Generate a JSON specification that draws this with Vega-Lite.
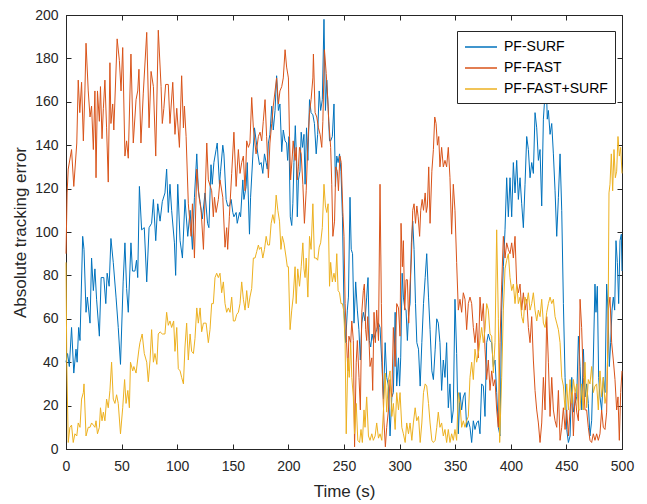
{
"$schema":"https://vega.github.io/schema/vega-lite/v6.json",
"width":556,"height":434,"autosize":"none",
"padding":{"left":66,"top":15,"right":25,"bottom":55},
"config":{"font":"Liberation Sans","view":{"stroke":"#262626","strokeWidth":1},
"axis":{"domainColor":"#262626","tickColor":"#262626","labelColor":"#262626","titleColor":"#262626","labelFont":"Liberation Sans","titleFont":"Liberation Sans","labelFontSize":14,"titleFontSize":17,"titleFontWeight":"normal","grid":false,"tickSize":-5,"domainWidth":1,"tickWidth":1,"labelFlush":false}},
"datasets":{
"surf":[{"t":0,"v":40},{"t":1.4,"v":44},{"t":3,"v":38},{"t":5,"v":56},{"t":7,"v":35},{"t":9,"v":46},{"t":10,"v":40},{"t":11.4,"v":56},{"t":12.6,"v":50},{"t":15,"v":98},{"t":16.2,"v":92},{"t":18,"v":63},{"t":19.2,"v":70},{"t":21.6,"v":58},{"t":23,"v":88},{"t":24.6,"v":73},{"t":26,"v":83},{"t":27.5,"v":69},{"t":30,"v":52},{"t":31.6,"v":79},{"t":34,"v":79},{"t":35.8,"v":67},{"t":37,"v":81},{"t":38.8,"v":75},{"t":40.4,"v":97},{"t":42.5,"v":86},{"t":45,"v":70},{"t":47,"v":56},{"t":49,"v":39},{"t":51.4,"v":77},{"t":53,"v":95},{"t":54.5,"v":74},{"t":56,"v":63},{"t":58.4,"v":95},{"t":59.8,"v":82},{"t":62,"v":82},{"t":63.4,"v":87},{"t":64.5,"v":79},{"t":66,"v":121},{"t":68,"v":101},{"t":70.4,"v":102},{"t":72.6,"v":77},{"t":74.7,"v":102},{"t":77,"v":104},{"t":78.6,"v":115},{"t":80.7,"v":96},{"t":82.5,"v":113},{"t":84.6,"v":105},{"t":86.6,"v":114},{"t":89,"v":118},{"t":90.5,"v":129},{"t":92,"v":109},{"t":93.5,"v":122},{"t":95,"v":110},{"t":97.5,"v":95},{"t":98.6,"v":80},{"t":100.5,"v":122},{"t":102.6,"v":96},{"t":104.7,"v":88},{"t":107,"v":115},{"t":109.5,"v":98},{"t":111.6,"v":110},{"t":113.7,"v":92},{"t":115.5,"v":116},{"t":117.6,"v":136},{"t":119,"v":119},{"t":120.6,"v":114},{"t":122.6,"v":106},{"t":125,"v":118},{"t":127.3,"v":104},{"t":128.5,"v":102},{"t":130.4,"v":131},{"t":131.5,"v":122},{"t":133,"v":132},{"t":135,"v":138},{"t":136,"v":141},{"t":138,"v":122},{"t":139,"v":128},{"t":141,"v":140},{"t":142,"v":136},{"t":144,"v":115},{"t":145.4,"v":112},{"t":147,"v":112},{"t":148.5,"v":115},{"t":150,"v":109},{"t":151,"v":107},{"t":153,"v":109},{"t":154,"v":104},{"t":156,"v":109},{"t":157,"v":107},{"t":159,"v":124},{"t":160,"v":115},{"t":162,"v":121},{"t":163,"v":132},{"t":165,"v":99},{"t":166,"v":116},{"t":168,"v":135},{"t":169.5,"v":148},{"t":171,"v":142},{"t":172.5,"v":136},{"t":174,"v":131},{"t":175.5,"v":132},{"t":177,"v":127},{"t":178.5,"v":136},{"t":180,"v":132},{"t":181,"v":129},{"t":182,"v":141},{"t":183.4,"v":145},{"t":185,"v":158},{"t":186.4,"v":147},{"t":188,"v":156},{"t":189.4,"v":172},{"t":191,"v":156},{"t":192.4,"v":159},{"t":194,"v":137},{"t":195.4,"v":147},{"t":197,"v":142},{"t":198.4,"v":141},{"t":199.3,"v":133},{"t":200.5,"v":144},{"t":201.7,"v":107},{"t":203,"v":103},{"t":204,"v":113},{"t":205,"v":132},{"t":206.2,"v":149},{"t":207,"v":138},{"t":208,"v":107},{"t":209,"v":124},{"t":210.4,"v":128},{"t":211.5,"v":146},{"t":212.7,"v":139},{"t":214,"v":145},{"t":215,"v":122},{"t":216.3,"v":148},{"t":217.5,"v":133},{"t":219,"v":161},{"t":220.4,"v":155},{"t":222,"v":154},{"t":223.4,"v":150},{"t":225,"v":136},{"t":226.3,"v":145},{"t":227.7,"v":165},{"t":229,"v":156},{"t":230.5,"v":161},{"t":232,"v":198},{"t":233.3,"v":156},{"t":234.5,"v":170},{"t":235.7,"v":158},{"t":237,"v":142},{"t":238,"v":142},{"t":239.5,"v":144},{"t":241,"v":159},{"t":242.3,"v":121},{"t":243.5,"v":135},{"t":244.7,"v":132},{"t":246,"v":136},{"t":247.3,"v":128},{"t":248.6,"v":107},{"t":250,"v":64},{"t":251.5,"v":49},{"t":253,"v":64},{"t":254,"v":70},{"t":255.4,"v":116},{"t":256.5,"v":92},{"t":257.7,"v":90},{"t":259,"v":58},{"t":260.5,"v":77},{"t":262,"v":64},{"t":263.4,"v":55},{"t":264.7,"v":41},{"t":266,"v":58},{"t":267.4,"v":63},{"t":268.9,"v":59},{"t":270.4,"v":70},{"t":271.6,"v":79},{"t":272.8,"v":50},{"t":274,"v":47},{"t":275.2,"v":53},{"t":276.4,"v":50},{"t":278,"v":53},{"t":279.4,"v":55},{"t":281,"v":58},{"t":282.4,"v":56},{"t":284,"v":40},{"t":285.5,"v":23},{"t":287,"v":49},{"t":288.4,"v":33},{"t":290,"v":29},{"t":291.4,"v":6},{"t":293,"v":24},{"t":294.4,"v":26},{"t":296,"v":63},{"t":297.4,"v":29},{"t":299,"v":42},{"t":300,"v":29},{"t":301,"v":42},{"t":302.3,"v":81},{"t":303.4,"v":70},{"t":304.6,"v":65},{"t":305.8,"v":64},{"t":307,"v":50},{"t":308.2,"v":63},{"t":309.4,"v":67},{"t":310.6,"v":95},{"t":311.8,"v":105},{"t":313,"v":92},{"t":314.3,"v":67},{"t":315.5,"v":49},{"t":317,"v":46},{"t":318.5,"v":29},{"t":320,"v":49},{"t":321.5,"v":67},{"t":323,"v":79},{"t":324.4,"v":90},{"t":326,"v":70},{"t":327.4,"v":55},{"t":329,"v":36},{"t":330.4,"v":32},{"t":332,"v":46},{"t":333.4,"v":60},{"t":334.8,"v":58},{"t":336.3,"v":49},{"t":337.8,"v":27},{"t":339.3,"v":41},{"t":340.8,"v":33},{"t":342.3,"v":49},{"t":343.8,"v":19},{"t":345.3,"v":30},{"t":346.8,"v":12},{"t":348.3,"v":18},{"t":349.8,"v":69},{"t":351.3,"v":44},{"t":352.8,"v":7},{"t":354.3,"v":26},{"t":355.8,"v":18},{"t":357.3,"v":24},{"t":358.8,"v":26},{"t":360.3,"v":10},{"t":361.8,"v":13},{"t":363.3,"v":10},{"t":364.8,"v":3},{"t":366.3,"v":13},{"t":367.8,"v":9},{"t":369.3,"v":12},{"t":370.8,"v":13},{"t":372.3,"v":7},{"t":373.8,"v":30},{"t":375.3,"v":29},{"t":376.8,"v":15},{"t":378.3,"v":49},{"t":379.8,"v":53},{"t":381.3,"v":50},{"t":382.8,"v":49},{"t":384.3,"v":38},{"t":385.8,"v":41},{"t":387.3,"v":26},{"t":388.8,"v":10},{"t":390.3,"v":6},{"t":391.8,"v":64},{"t":393.3,"v":84},{"t":394.8,"v":101},{"t":396.3,"v":125},{"t":397.8,"v":107},{"t":399.3,"v":125},{"t":400.8,"v":107},{"t":402.3,"v":132},{"t":403.8,"v":118},{"t":405.3,"v":133},{"t":406.8,"v":115},{"t":408.3,"v":125},{"t":409.8,"v":113},{"t":411.3,"v":102},{"t":412.8,"v":122},{"t":414.3,"v":144},{"t":415.8,"v":138},{"t":417.3,"v":125},{"t":418.8,"v":132},{"t":420.3,"v":127},{"t":421.8,"v":155},{"t":423.3,"v":148},{"t":424.8,"v":133},{"t":426.3,"v":138},{"t":427.8,"v":112},{"t":429.3,"v":152},{"t":430.8,"v":164},{"t":431.7,"v":172},{"t":432.8,"v":152},{"t":433.8,"v":156},{"t":435.3,"v":145},{"t":436.8,"v":150},{"t":438.3,"v":136},{"t":439.8,"v":119},{"t":441.3,"v":98},{"t":442.8,"v":116},{"t":444.3,"v":136},{"t":445.8,"v":110},{"t":447.3,"v":67},{"t":448.8,"v":33},{"t":450.3,"v":9},{"t":451.8,"v":3},{"t":453.3,"v":6},{"t":454.8,"v":33},{"t":456.3,"v":17},{"t":457.8,"v":21},{"t":459.3,"v":24},{"t":460.8,"v":52},{"t":462.3,"v":38},{"t":463.8,"v":18},{"t":465.3,"v":46},{"t":466.8,"v":24},{"t":468.2,"v":30},{"t":469.7,"v":21},{"t":471.2,"v":6},{"t":472.7,"v":13},{"t":474.2,"v":41},{"t":475.7,"v":76},{"t":476.6,"v":63},{"t":477.8,"v":75},{"t":479,"v":33},{"t":480.2,"v":24},{"t":481.7,"v":18},{"t":483.2,"v":33},{"t":484.7,"v":26},{"t":486.2,"v":76},{"t":487.4,"v":64},{"t":488.6,"v":38},{"t":489.8,"v":49},{"t":491,"v":64},{"t":492.2,"v":70},{"t":493.4,"v":64},{"t":494.6,"v":96},{"t":495.8,"v":86},{"t":497,"v":67},{"t":498.2,"v":96},{"t":499.4,"v":99},{"t":500,"v":82}],
"fast":[{"t":0,"v":90},{"t":1,"v":118},{"t":2,"v":129},{"t":5,"v":138},{"t":7,"v":121},{"t":9.7,"v":141},{"t":11,"v":170},{"t":12.4,"v":155},{"t":14,"v":169},{"t":15.6,"v":142},{"t":17,"v":165},{"t":18,"v":187},{"t":20,"v":165},{"t":21.6,"v":153},{"t":23,"v":158},{"t":24.6,"v":138},{"t":26,"v":165},{"t":27,"v":125},{"t":28.3,"v":165},{"t":30,"v":151},{"t":31,"v":167},{"t":32.4,"v":143},{"t":33.6,"v":157},{"t":35,"v":170},{"t":36.5,"v":148},{"t":38,"v":123},{"t":39.5,"v":178},{"t":40.4,"v":150},{"t":42,"v":159},{"t":43,"v":147},{"t":46,"v":189},{"t":48,"v":179},{"t":49.5,"v":165},{"t":51,"v":185},{"t":53,"v":135},{"t":54.5,"v":142},{"t":56,"v":134},{"t":58.4,"v":182},{"t":60.5,"v":141},{"t":63,"v":161},{"t":64.5,"v":165},{"t":65.6,"v":175},{"t":67.4,"v":141},{"t":69.5,"v":164},{"t":72.6,"v":192},{"t":74.7,"v":148},{"t":76.5,"v":174},{"t":78.6,"v":167},{"t":80.7,"v":135},{"t":83,"v":193},{"t":85.5,"v":167},{"t":86.6,"v":150},{"t":88,"v":157},{"t":89.6,"v":168},{"t":92,"v":168},{"t":93.5,"v":150},{"t":96,"v":169},{"t":98,"v":145},{"t":99.6,"v":157},{"t":102,"v":139},{"t":104,"v":172},{"t":105.6,"v":148},{"t":106.5,"v":158},{"t":108,"v":144},{"t":110,"v":113},{"t":112.5,"v":98},{"t":113.7,"v":113},{"t":115.5,"v":88},{"t":117.6,"v":129},{"t":119.7,"v":116},{"t":121.5,"v":110},{"t":123.6,"v":92},{"t":126.6,"v":141},{"t":128,"v":124},{"t":131,"v":119},{"t":132.5,"v":107},{"t":133.5,"v":116},{"t":135,"v":109},{"t":137,"v":115},{"t":138.5,"v":124},{"t":141,"v":116},{"t":143,"v":93},{"t":144.5,"v":102},{"t":145.4,"v":92},{"t":146.9,"v":107},{"t":149,"v":127},{"t":151,"v":146},{"t":153,"v":121},{"t":155,"v":138},{"t":156.5,"v":127},{"t":158,"v":132},{"t":159.5,"v":135},{"t":161,"v":119},{"t":162.5,"v":142},{"t":164,"v":139},{"t":165.4,"v":141},{"t":167,"v":162},{"t":168.5,"v":148},{"t":170.9,"v":136},{"t":173,"v":144},{"t":174.5,"v":146},{"t":176,"v":142},{"t":177.4,"v":151},{"t":179,"v":161},{"t":180.4,"v":144},{"t":182,"v":125},{"t":183.4,"v":141},{"t":185,"v":150},{"t":186.4,"v":158},{"t":188,"v":165},{"t":189.4,"v":171},{"t":191,"v":159},{"t":192.4,"v":165},{"t":194,"v":167},{"t":195.4,"v":171},{"t":197,"v":184},{"t":198.4,"v":176},{"t":200,"v":171},{"t":201,"v":144},{"t":202,"v":124},{"t":203.5,"v":135},{"t":204.3,"v":142},{"t":206,"v":133},{"t":207,"v":139},{"t":208,"v":124},{"t":209,"v":130},{"t":210,"v":139},{"t":211.5,"v":136},{"t":213,"v":122},{"t":214.4,"v":104},{"t":216,"v":119},{"t":217.5,"v":141},{"t":219,"v":155},{"t":220.4,"v":161},{"t":222,"v":171},{"t":222.5,"v":182},{"t":224,"v":155},{"t":225.5,"v":153},{"t":227,"v":148},{"t":228.5,"v":145},{"t":230,"v":139},{"t":231,"v":151},{"t":232.4,"v":184},{"t":234,"v":173},{"t":235.4,"v":161},{"t":236.3,"v":151},{"t":238,"v":139},{"t":239,"v":122},{"t":240,"v":98},{"t":241.5,"v":105},{"t":242.6,"v":130},{"t":244,"v":128},{"t":245,"v":119},{"t":246.3,"v":135},{"t":247.5,"v":132},{"t":249,"v":109},{"t":250,"v":98},{"t":251,"v":67},{"t":252.3,"v":49},{"t":253.5,"v":36},{"t":254.4,"v":52},{"t":256,"v":49},{"t":257,"v":59},{"t":258.4,"v":50},{"t":259.5,"v":1},{"t":261,"v":40},{"t":262,"v":50},{"t":263.5,"v":33},{"t":264.7,"v":18},{"t":266,"v":63},{"t":267.4,"v":73},{"t":268.3,"v":76},{"t":269.5,"v":55},{"t":270.4,"v":50},{"t":271.3,"v":61},{"t":272.5,"v":50},{"t":273.4,"v":38},{"t":275,"v":42},{"t":275.8,"v":27},{"t":277,"v":63},{"t":278.2,"v":49},{"t":279.4,"v":64},{"t":281,"v":50},{"t":282.4,"v":122},{"t":283.6,"v":67},{"t":284.8,"v":29},{"t":286,"v":12},{"t":287.2,"v":1},{"t":288.4,"v":10},{"t":290,"v":18},{"t":291.4,"v":32},{"t":293,"v":24},{"t":294.4,"v":56},{"t":296,"v":38},{"t":297.4,"v":67},{"t":299,"v":65},{"t":300.4,"v":52},{"t":301.3,"v":104},{"t":302.5,"v":84},{"t":303.4,"v":96},{"t":304.6,"v":64},{"t":305.8,"v":78},{"t":307,"v":78},{"t":308.2,"v":58},{"t":309.4,"v":76},{"t":310.6,"v":88},{"t":311.8,"v":110},{"t":313,"v":113},{"t":314.3,"v":104},{"t":315.5,"v":112},{"t":316.7,"v":107},{"t":318,"v":98},{"t":319,"v":110},{"t":320.3,"v":115},{"t":321.5,"v":110},{"t":323,"v":118},{"t":324,"v":109},{"t":325,"v":112},{"t":326.2,"v":130},{"t":327.4,"v":104},{"t":329,"v":128},{"t":330.4,"v":138},{"t":331.6,"v":153},{"t":332.8,"v":150},{"t":334,"v":140},{"t":335.2,"v":144},{"t":336.3,"v":130},{"t":337.8,"v":139},{"t":339.3,"v":130},{"t":340.8,"v":133},{"t":342.3,"v":130},{"t":343.8,"v":139},{"t":345.3,"v":125},{"t":346.8,"v":99},{"t":348.3,"v":122},{"t":349.8,"v":110},{"t":351.3,"v":86},{"t":352.8,"v":64},{"t":354.3,"v":69},{"t":355.8,"v":63},{"t":357.3,"v":72},{"t":358.8,"v":69},{"t":360.3,"v":55},{"t":361.8,"v":67},{"t":363.3,"v":70},{"t":364.8,"v":67},{"t":366.3,"v":56},{"t":367.8,"v":49},{"t":369.3,"v":58},{"t":370.8,"v":42},{"t":372.3,"v":70},{"t":373.8,"v":59},{"t":375.3,"v":67},{"t":376.8,"v":46},{"t":378.3,"v":32},{"t":379.8,"v":41},{"t":381.3,"v":27},{"t":382.8,"v":36},{"t":384.3,"v":29},{"t":385.8,"v":32},{"t":387.3,"v":18},{"t":388.8,"v":10},{"t":390.3,"v":49},{"t":391.8,"v":76},{"t":393.3,"v":98},{"t":394.8,"v":88},{"t":396.3,"v":95},{"t":397.8,"v":92},{"t":399.3,"v":90},{"t":400.8,"v":95},{"t":402.3,"v":88},{"t":403.8,"v":98},{"t":405.3,"v":76},{"t":406.8,"v":72},{"t":408.3,"v":76},{"t":409.8,"v":64},{"t":411.3,"v":72},{"t":412.8,"v":64},{"t":414.3,"v":69},{"t":415.8,"v":56},{"t":417.3,"v":49},{"t":418.8,"v":61},{"t":420.3,"v":41},{"t":421.8,"v":27},{"t":423.3,"v":18},{"t":424.8,"v":12},{"t":426.3,"v":3},{"t":427.8,"v":12},{"t":429.3,"v":33},{"t":430.8,"v":18},{"t":432.3,"v":61},{"t":433.8,"v":40},{"t":435.3,"v":15},{"t":436.8,"v":33},{"t":438.3,"v":18},{"t":439.8,"v":13},{"t":441.3,"v":10},{"t":442.8,"v":27},{"t":444.3,"v":4},{"t":445.8,"v":10},{"t":447.3,"v":19},{"t":448.8,"v":9},{"t":450.3,"v":18},{"t":451.8,"v":6},{"t":453.3,"v":18},{"t":454.8,"v":26},{"t":456.3,"v":6},{"t":457.8,"v":26},{"t":459.3,"v":17},{"t":460.8,"v":13},{"t":462.3,"v":69},{"t":463.7,"v":56},{"t":465.2,"v":33},{"t":466.7,"v":18},{"t":468.2,"v":18},{"t":469.7,"v":10},{"t":471.2,"v":4},{"t":472.7,"v":3},{"t":474.2,"v":7},{"t":475.7,"v":4},{"t":477.2,"v":7},{"t":478.7,"v":4},{"t":480.2,"v":7},{"t":481.7,"v":18},{"t":483.2,"v":10},{"t":484.7,"v":9},{"t":486.2,"v":17},{"t":487.7,"v":64},{"t":489.2,"v":70},{"t":490.7,"v":49},{"t":492.2,"v":41},{"t":493.7,"v":32},{"t":495.2,"v":18},{"t":496.4,"v":24},{"t":497.6,"v":4},{"t":498.8,"v":26},{"t":500,"v":36}],
"both":[{"t":0,"v":86},{"t":0.7,"v":40},{"t":2,"v":3},{"t":3.5,"v":10},{"t":5,"v":11},{"t":6.5,"v":3},{"t":8,"v":7},{"t":9.7,"v":6},{"t":11,"v":12},{"t":12.6,"v":10},{"t":14,"v":23},{"t":15.6,"v":26},{"t":16.2,"v":30},{"t":18,"v":6},{"t":20,"v":10},{"t":21.6,"v":10},{"t":23,"v":12},{"t":24.6,"v":11},{"t":26,"v":10},{"t":27,"v":13},{"t":28.3,"v":7},{"t":30,"v":10},{"t":31,"v":19},{"t":32.4,"v":13},{"t":33.6,"v":17},{"t":35,"v":13},{"t":36.5,"v":23},{"t":38,"v":19},{"t":39.5,"v":27},{"t":41,"v":40},{"t":42.5,"v":23},{"t":44,"v":21},{"t":45.5,"v":25},{"t":47,"v":21},{"t":49,"v":7},{"t":51,"v":19},{"t":52.7,"v":32},{"t":54,"v":21},{"t":55.6,"v":27},{"t":57,"v":19},{"t":58,"v":40},{"t":60,"v":36},{"t":61,"v":38},{"t":63,"v":35},{"t":64.4,"v":41},{"t":65.6,"v":46},{"t":66.5,"v":49},{"t":68.5,"v":53},{"t":70.4,"v":44},{"t":72.6,"v":40},{"t":74,"v":31},{"t":75.6,"v":41},{"t":77,"v":55},{"t":78.6,"v":40},{"t":80,"v":44},{"t":81.7,"v":39},{"t":83,"v":53},{"t":84.6,"v":54},{"t":86.6,"v":53},{"t":89,"v":53},{"t":90.5,"v":63},{"t":92,"v":57},{"t":93.5,"v":59},{"t":95,"v":56},{"t":96.8,"v":59},{"t":98,"v":45},{"t":99.6,"v":56},{"t":101,"v":37},{"t":102.6,"v":36},{"t":104,"v":33},{"t":105.6,"v":30},{"t":107,"v":47},{"t":108.5,"v":58},{"t":110,"v":41},{"t":111.6,"v":53},{"t":113,"v":45},{"t":114.6,"v":44},{"t":116,"v":51},{"t":117.6,"v":65},{"t":119,"v":58},{"t":120.6,"v":65},{"t":122,"v":54},{"t":123.6,"v":58},{"t":126,"v":58},{"t":128,"v":49},{"t":129.5,"v":55},{"t":131,"v":67},{"t":132.5,"v":67},{"t":134,"v":79},{"t":135.5,"v":81},{"t":137,"v":79},{"t":138.5,"v":81},{"t":140,"v":72},{"t":141.5,"v":77},{"t":143,"v":67},{"t":144.5,"v":63},{"t":146,"v":65},{"t":147.5,"v":63},{"t":149,"v":70},{"t":150.5,"v":59},{"t":152,"v":59},{"t":153.5,"v":62},{"t":155,"v":63},{"t":156.5,"v":67},{"t":158,"v":77},{"t":159.5,"v":69},{"t":161,"v":64},{"t":162.5,"v":73},{"t":164,"v":65},{"t":165.4,"v":70},{"t":167,"v":74},{"t":168.5,"v":88},{"t":170,"v":88},{"t":171.5,"v":91},{"t":173,"v":94},{"t":174,"v":92},{"t":175.5,"v":93},{"t":177,"v":88},{"t":178.5,"v":92},{"t":180,"v":98},{"t":181.5,"v":94},{"t":183,"v":94},{"t":184.5,"v":104},{"t":186,"v":108},{"t":187.5,"v":104},{"t":189,"v":117},{"t":190.5,"v":110},{"t":192,"v":105},{"t":193.3,"v":92},{"t":194.5,"v":98},{"t":196,"v":95},{"t":198,"v":88},{"t":199,"v":84},{"t":200,"v":84},{"t":201.5,"v":55},{"t":203,"v":64},{"t":204.3,"v":70},{"t":206,"v":84},{"t":207,"v":67},{"t":208.4,"v":83},{"t":210,"v":75},{"t":211.5,"v":84},{"t":213,"v":95},{"t":214,"v":83},{"t":215,"v":79},{"t":216,"v":88},{"t":217.5,"v":70},{"t":219,"v":98},{"t":220.4,"v":92},{"t":222,"v":113},{"t":223.4,"v":88},{"t":225,"v":88},{"t":226.3,"v":87},{"t":227.7,"v":93},{"t":229,"v":95},{"t":230.5,"v":102},{"t":232,"v":122},{"t":233.3,"v":112},{"t":234.5,"v":109},{"t":235.7,"v":113},{"t":237,"v":75},{"t":238,"v":86},{"t":239.5,"v":77},{"t":241,"v":81},{"t":242.3,"v":77},{"t":243.5,"v":90},{"t":244.7,"v":73},{"t":246,"v":72},{"t":247.3,"v":67},{"t":248.5,"v":67},{"t":249.7,"v":64},{"t":251,"v":49},{"t":252,"v":7},{"t":253.5,"v":42},{"t":254.7,"v":33},{"t":256,"v":49},{"t":257,"v":33},{"t":258.4,"v":24},{"t":259.5,"v":7},{"t":261,"v":21},{"t":262.4,"v":4},{"t":264,"v":3},{"t":265.3,"v":9},{"t":266.5,"v":3},{"t":268,"v":18},{"t":268.9,"v":10},{"t":270.4,"v":24},{"t":272,"v":6},{"t":273.4,"v":4},{"t":275,"v":7},{"t":276.4,"v":4},{"t":278,"v":6},{"t":279.4,"v":12},{"t":281,"v":5},{"t":282.4,"v":7},{"t":284,"v":4},{"t":285.5,"v":18},{"t":287,"v":35},{"t":288.4,"v":17},{"t":290,"v":32},{"t":291.4,"v":36},{"t":293,"v":15},{"t":294.4,"v":21},{"t":296,"v":9},{"t":297.4,"v":26},{"t":299,"v":18},{"t":300.4,"v":26},{"t":302,"v":10},{"t":303.4,"v":7},{"t":305,"v":3},{"t":306.4,"v":12},{"t":308,"v":7},{"t":309.4,"v":12},{"t":311,"v":4},{"t":312.4,"v":12},{"t":314,"v":19},{"t":315.4,"v":13},{"t":317,"v":15},{"t":318.5,"v":3},{"t":320,"v":12},{"t":321.5,"v":26},{"t":323,"v":30},{"t":324.4,"v":29},{"t":326,"v":21},{"t":327.4,"v":12},{"t":329,"v":4},{"t":330.4,"v":3},{"t":332,"v":4},{"t":333.4,"v":10},{"t":334.8,"v":17},{"t":336.3,"v":10},{"t":337.8,"v":12},{"t":339.3,"v":6},{"t":340.8,"v":9},{"t":342.3,"v":3},{"t":343.8,"v":9},{"t":345.3,"v":3},{"t":346.8,"v":7},{"t":348.3,"v":4},{"t":349.8,"v":9},{"t":351.3,"v":4},{"t":352.8,"v":26},{"t":354.3,"v":21},{"t":355.8,"v":10},{"t":357.3,"v":13},{"t":358.8,"v":10},{"t":360.3,"v":13},{"t":361.8,"v":15},{"t":363.3,"v":33},{"t":364.8,"v":40},{"t":366.3,"v":32},{"t":367.8,"v":46},{"t":369.3,"v":40},{"t":370.8,"v":44},{"t":372.3,"v":50},{"t":373.8,"v":56},{"t":375.3,"v":49},{"t":376.8,"v":55},{"t":378.3,"v":67},{"t":379.8,"v":64},{"t":381.3,"v":53},{"t":382.8,"v":52},{"t":384.3,"v":35},{"t":385.8,"v":49},{"t":387.3,"v":101},{"t":388.8,"v":60},{"t":390,"v":3},{"t":391.8,"v":33},{"t":393.3,"v":64},{"t":394.8,"v":83},{"t":396.3,"v":87},{"t":397.8,"v":90},{"t":399.3,"v":79},{"t":400.8,"v":73},{"t":402.3,"v":76},{"t":403.8,"v":67},{"t":405.3,"v":76},{"t":406.8,"v":67},{"t":408.3,"v":70},{"t":409.8,"v":61},{"t":411.3,"v":58},{"t":412.8,"v":70},{"t":414.3,"v":67},{"t":415.8,"v":72},{"t":417.3,"v":64},{"t":418.8,"v":67},{"t":420.3,"v":72},{"t":421.8,"v":64},{"t":423.3,"v":59},{"t":424.8,"v":64},{"t":426.3,"v":61},{"t":427.8,"v":69},{"t":429.3,"v":58},{"t":430.8,"v":56},{"t":432.3,"v":63},{"t":433.8,"v":67},{"t":435.3,"v":70},{"t":436.8,"v":67},{"t":438.3,"v":69},{"t":439.8,"v":61},{"t":441.3,"v":58},{"t":442.8,"v":55},{"t":444.3,"v":49},{"t":445.8,"v":33},{"t":447.3,"v":29},{"t":448.8,"v":18},{"t":450.3,"v":30},{"t":451.8,"v":18},{"t":453.3,"v":32},{"t":454.8,"v":21},{"t":456.3,"v":32},{"t":457.8,"v":26},{"t":459.3,"v":30},{"t":460.8,"v":18},{"t":462.2,"v":18},{"t":463.7,"v":30},{"t":465.2,"v":18},{"t":466.7,"v":40},{"t":468.2,"v":19},{"t":469.7,"v":32},{"t":471.2,"v":30},{"t":472.7,"v":38},{"t":474.2,"v":26},{"t":475.7,"v":29},{"t":477.2,"v":30},{"t":478.7,"v":18},{"t":480.2,"v":36},{"t":481.7,"v":24},{"t":483.2,"v":33},{"t":484.7,"v":21},{"t":486.2,"v":26},{"t":487.4,"v":49},{"t":488.3,"v":118},{"t":489.2,"v":122},{"t":490.4,"v":136},{"t":491.6,"v":119},{"t":492.8,"v":138},{"t":494,"v":125},{"t":495.2,"v":128},{"t":496.4,"v":144},{"t":497.6,"v":135},{"t":498.8,"v":139},{"t":500,"v":127}]
},
"layer":[
{"data":{"name":"surf"},"mark":{"type":"line","strokeWidth":1},
"encoding":{
"x":{"field":"t","type":"quantitative","scale":{"domain":[0,500],"nice":false},"axis":{"orient":"bottom","values":[0,50,100,150,200,250,300,350,400,450,500],"title":"Time (s)","labelPadding":15,"titlePadding":10}},
"y":{"field":"v","type":"quantitative","scale":{"domain":[0,200],"nice":false},"axis":{"orient":"left","values":[0,20,40,60,80,100,120,140,160,180,200],"title":"Absolute tracking error","labelPadding":13,"titlePadding":5}},
"color":{"datum":"PF-SURF","type":"nominal","scale":{"domain":["PF-SURF","PF-FAST","PF-FAST+SURF"],"range":["#0072BD","#D95319","#EDB120"]},
"legend":{"title":null,"orient":"none","legendX":391,"legendY":16,"symbolType":"M-1,0H3","symbolSize":256,"symbolStrokeWidth":1.5,"symbolFillColor":"transparent","labelFontSize":14,"labelFont":"Liberation Sans","labelColor":"#000000","fillColor":"#ffffff","strokeColor":"#262626","padding":7,"rowPadding":5,"labelOffset":22,"cornerRadius":0}}}},
{"data":{"name":"fast"},"mark":{"type":"line","strokeWidth":1},
"encoding":{
"x":{"field":"t","type":"quantitative","axis":{"orient":"top","values":[0,50,100,150,200,250,300,350,400,450,500],"labels":false,"title":null,"domain":false}},
"y":{"field":"v","type":"quantitative","axis":{"orient":"right","values":[0,20,40,60,80,100,120,140,160,180,200],"labels":false,"title":null,"domain":false}},
"color":{"datum":"PF-FAST","type":"nominal"}}},
{"data":{"name":"both"},"mark":{"type":"line","strokeWidth":1},
"encoding":{
"x":{"field":"t","type":"quantitative","axis":null},
"y":{"field":"v","type":"quantitative","axis":null},
"color":{"datum":"PF-FAST+SURF","type":"nominal"}}}
],
"resolve":{"axis":{"x":"independent","y":"independent"}}
}
